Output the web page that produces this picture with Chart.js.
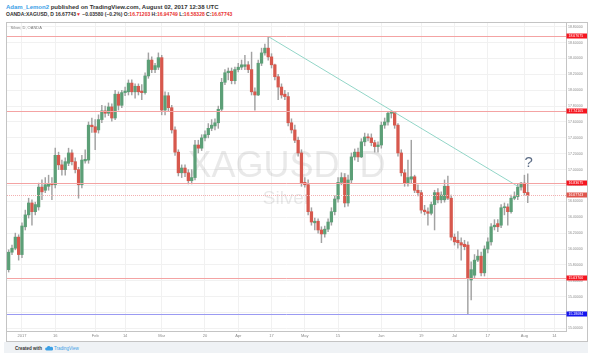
<!DOCTYPE html>
<html>
<head>
<meta charset="utf-8">
<script src="https://cdn.jsdelivr.net/npm/chart.js@4.4.0/dist/chart.umd.min.js"></script>
<style>
html, body { margin: 0; padding: 0; }
body { width: 599px; height: 353px; background: #fff; position: relative; overflow: hidden;
       font-family: "Liberation Sans", Arial, sans-serif; }
#h1 { position: absolute; left: 6px; top: 4px; font-size: 6px; line-height: 6px; font-weight: bold; color: #333; white-space: nowrap; }
#h2 { position: absolute; left: 6px; top: 11.5px; font-size: 5px; line-height: 5px; font-weight: bold; color: #333; white-space: nowrap; }
#h1 .who { color: #3ba0e6; }
.red { color: #e8322f; }
#box { position: absolute; left: 6px; top: 22px; width: 580px; height: 318px; border: 1px solid #c4c4c4; background: #fff; }
#box canvas { position: absolute; left: 0; top: 0; }
#foot { position: absolute; left: 4px; top: 342px; width: 584px; height: 11px; background: #eff2f5; }
#foot .txt { position: absolute; left: 11px; top: 4px; font-size: 4.5px; line-height: 5px; font-weight: bold; color: #333; white-space: nowrap; }
#foot .tv { position: absolute; left: 50px; top: 4px; font-size: 4.5px; line-height: 5px; color: #3ba0e6; white-space: nowrap; }
#foot svg { position: absolute; left: 41px; top: 3px; }
</style>
</head>
<body>
<div id="h1"><span class="who">Adam_Lemon2</span> published on TradingView.com, August 02, 2017 12:38 UTC</div>
<div id="h2">OANDA:XAGUSD, D 16.67743<span class="red">▼</span> −0.03580 (−0.2%) O:<span class="red">16.71203</span> H:<span class="red">16.94749</span> L:<span class="red">16.58328</span> C:<span class="red">16.67743</span></div>
<div id="box"><canvas id="chart" width="580" height="318"></canvas></div>
<div id="foot">
  <span class="txt">Created with</span>
  <svg width="8" height="6" viewBox="0 0 8 6"><path d="M1.5 5.5 a1.5 1.5 0 0 1 0.3-3 a2 2 0 0 1 3.7-0.6 a1.6 1.6 0 0 1 1.5 3.6 z" fill="#3ba0e6"/></svg>
  <span class="tv">TradingView</span>
</div>
<script>
// Свечи XAGUSD, дневной таймфрейм, 27.12.2016 - 02.08.2017
var FIRST_DAY = '2016-12-27';
var DAY_COUNT = 168;   // торговые дни на оси, включая пустые справа

var OPEN = [
  15.74, 15.96, 16.01, 16.15,
  15.93, 16.28, 16.43, 16.58, 16.47, 16.53, 16.78, 16.74, 16.79, 16.82,
  16.81, 17.18, 17.06, 17.00, 17.08, 17.21, 17.10, 17.00, 16.81, 17.11,
  17.12, 17.56, 17.54, 17.50, 17.63, 17.74, 17.71, 17.79, 17.65, 17.95,
  17.81, 17.97, 17.98, 18.09, 17.98, 18.05, 17.99, 17.97, 18.18, 18.38,
  18.26, 18.29, 18.41, 17.75, 17.93, 17.78, 17.50, 17.22, 16.96, 17.02,
  16.96, 16.86, 16.90, 17.31, 17.27, 17.40, 17.44, 17.52, 17.55, 17.59,
  17.76, 18.10, 18.22, 18.24, 18.12, 18.26, 18.29, 18.30, 18.32, 18.26,
  17.98, 17.94, 18.34, 18.47, 18.53, 18.42, 18.32, 18.17, 18.04, 17.95,
  17.92, 17.59, 17.50, 17.37, 17.21, 16.84, 16.81, 16.47, 16.33, 16.35,
  16.24, 16.19, 16.25, 16.34, 16.47, 16.63, 16.84, 16.90, 16.58, 16.87,
  17.16, 17.22, 17.16, 17.35, 17.41, 17.40, 17.34, 17.29, 17.31, 17.56,
  17.60, 17.71, 17.72, 17.56, 17.21, 16.96, 16.83, 16.88, 16.91, 16.74,
  16.71, 16.49, 16.47, 16.45, 16.56, 16.71, 16.62, 16.62, 16.79, 16.64,
  16.15, 16.11, 16.08, 16.06, 16.05, 15.61, 15.67, 15.86, 15.91, 15.70,
  16.00, 16.09, 16.28, 16.32, 16.30, 16.52, 16.53, 16.47, 16.64, 16.66,
  16.78, 16.83, 16.71203
];
var HIGH = [
  15.99, 16.05, 16.20, 16.18,
  16.33, 16.49, 16.64, 16.62, 16.59, 16.83, 16.87, 16.90, 16.93, 16.90,
  17.27, 17.22, 17.12, 17.15, 17.27, 17.25, 17.15, 17.03, 17.18, 17.25,
  17.60, 17.65, 17.63, 17.69, 17.81, 17.80, 17.84, 17.83, 18.00, 17.98,
  18.00, 18.04, 18.13, 18.13, 18.08, 18.08, 18.07, 18.22, 18.47, 18.42,
  18.34, 18.47, 18.44, 17.98, 17.97, 17.81, 17.54, 17.25, 17.06, 17.06,
  17.00, 17.00, 17.37, 17.37, 17.44, 17.49, 17.58, 17.63, 17.64, 17.80,
  18.15, 18.26, 18.28, 18.28, 18.29, 18.34, 18.38, 18.44, 18.36, 18.48,
  18.03, 18.38, 18.53, 18.58, 18.67675, 18.46, 18.33, 18.20, 18.08, 18.00,
  17.97, 17.64, 17.56, 17.41, 17.25, 16.90, 16.87, 16.52, 16.39, 16.38,
  16.28, 16.29, 16.38, 16.52, 16.67, 16.90, 16.96, 16.95, 16.93, 17.21,
  17.26, 17.27, 17.39, 17.46, 17.45, 17.45, 17.37, 17.35, 17.60, 17.65,
  17.73, 17.74105, 17.73, 17.58, 17.25, 17.00, 17.12, 17.37, 16.93, 16.81,
  16.74, 16.55, 16.52, 16.59, 16.74, 16.76, 16.72, 16.87, 16.92, 16.68,
  16.19, 16.22, 16.14, 16.11, 16.09, 15.84, 15.93, 15.99, 15.96, 16.04,
  16.14, 16.32, 16.37, 16.37, 16.56, 16.58, 16.57, 16.68, 16.72, 16.82,
  16.84, 16.93, 16.94749
];
var LOW = [
  15.71, 15.93, 15.99, 15.86,
  15.89, 16.24, 16.39, 16.30, 16.43, 16.49, 16.62, 16.71, 16.74, 16.62,
  16.77, 17.00, 16.93, 16.93, 17.05, 17.06, 16.96, 16.64, 16.77, 17.08,
  17.08, 17.47, 17.25, 17.46, 17.59, 17.66, 17.68, 17.61, 17.63, 17.75,
  17.78, 17.93, 17.94, 17.94, 17.90, 17.94, 17.88, 17.95, 18.15, 18.22,
  18.22, 18.26, 17.69, 17.69, 17.73, 17.46, 17.18, 16.92, 16.90, 16.91,
  16.82, 16.82, 16.87, 17.21, 17.24, 17.36, 17.40, 17.49, 17.50, 17.52,
  17.73, 18.07, 18.13, 18.08, 18.08, 18.23, 18.26, 18.26, 18.22, 17.94,
  17.75, 17.93, 18.31, 18.44, 18.38, 18.28, 18.13, 17.88, 17.90, 17.88,
  17.55, 17.46, 17.34, 17.17, 16.79, 16.78, 16.43, 16.30, 16.24, 16.20,
  16.08, 16.15, 16.22, 16.30, 16.43, 16.59, 16.81, 16.53, 16.54, 16.83,
  17.12, 17.10, 17.15, 17.30, 17.36, 17.30, 17.22, 17.22, 17.27, 17.52,
  17.56, 17.65, 17.52, 17.17, 16.92, 16.79, 16.79, 16.83, 16.71, 16.67,
  16.45, 16.43, 16.30, 16.43, 16.24, 16.58, 16.58, 16.59, 16.62, 16.11,
  16.05, 16.01, 15.86, 15.99, 15.18084, 15.36, 15.64, 15.84, 15.66, 15.66,
  15.95, 16.05, 16.24, 16.22, 16.27, 16.43, 16.30, 16.45, 16.62, 16.62,
  16.74, 16.68, 16.58328
];
var CLOSE = [
  15.96, 16.01, 16.15, 15.93,
  16.29, 16.43, 16.58, 16.47, 16.56, 16.78, 16.72, 16.81, 16.82, 16.81,
  17.18, 17.06, 17.00, 17.10, 17.21, 17.10, 17.00, 16.81, 17.12, 17.13,
  17.56, 17.54, 17.47, 17.63, 17.74, 17.71, 17.79, 17.65, 17.95, 17.81,
  17.97, 17.99, 18.09, 17.98, 18.05, 17.98, 17.97, 18.18, 18.38, 18.26,
  18.31, 18.41, 17.75, 17.93, 17.78, 17.50, 17.22, 16.96, 17.02, 16.96,
  16.86, 16.90, 17.31, 17.27, 17.40, 17.44, 17.52, 17.56, 17.59, 17.76,
  18.10, 18.22, 18.24, 18.12, 18.26, 18.29, 18.32, 18.32, 18.26, 17.98,
  17.94, 18.34, 18.47, 18.53, 18.42, 18.32, 18.17, 18.04, 17.94, 17.92,
  17.59, 17.50, 17.37, 17.21, 16.83, 16.81, 16.47, 16.34, 16.35, 16.24,
  16.19, 16.25, 16.34, 16.47, 16.63, 16.84, 16.90, 16.58, 16.87, 17.16,
  17.22, 17.16, 17.35, 17.41, 17.40, 17.34, 17.29, 17.31, 17.56, 17.60,
  17.71, 17.73, 17.56, 17.21, 16.96, 16.83, 16.90, 16.91, 16.74, 16.71,
  16.49, 16.47, 16.45, 16.56, 16.71, 16.62, 16.68, 16.79, 16.64, 16.15,
  16.09, 16.08, 16.05, 16.03, 15.637, 15.74, 15.86, 15.91, 15.70, 16.00,
  16.09, 16.28, 16.30, 16.28, 16.52, 16.53, 16.47, 16.64, 16.66, 16.78,
  16.83, 16.71, 16.67743
];

// Подписи оси времени
var XTICK_DATES = ['2017-01-02', '2017-01-16', '2017-02-01', '2017-02-14', '2017-03-01', '2017-03-20',
                   '2017-04-03', '2017-04-17', '2017-05-01', '2017-05-15', '2017-06-01', '2017-06-19',
                   '2017-07-03', '2017-07-17', '2017-08-01', '2017-08-14'];
var XTICK_TEXT = ['2017', '16', 'Feb', '14', 'Mar', '20', 'Apr', '17', 'May', '15', 'Jun', '19', 'Jul', '17', 'Aug', '14'];

// Шкала цены
var Y_TICKS = [15.0, 15.2, 15.4, 15.6, 15.8, 16.0, 16.2, 16.4, 16.6, 16.8, 17.0, 17.2, 17.4, 17.6, 17.8, 18.0, 18.2, 18.4, 18.6, 18.8];
var Y_MIN = 14.9675;
var Y_MAX = 18.8466;

// Горизонтальные уровни и трендовая линия
var LEVELS = [18.67675, 17.74105, 16.83675, 16.67743, 15.637, 15.18084];
var TREND_DATES = ['2017-04-14', '2017-07-28'];
var TREND_PRICES = [18.67675, 16.79];
var NOTE = { date: '2017-08-02', price: 17.03, text: '?' };

// Стили
var UP = '#5c9f77';
var DOWN = '#d7584d';
var WICK = '#a2a2a2';
var LEVEL_LINE = ['#f4a3a3', '#f4a3a3', '#f4a3a3', '#f3b0b0', '#f4a3a3', '#9a9af2'];
var LEVEL_DASH = [[], [], [], [1, 1], [], []];
var LEVEL_BOX = ['#f5151f', '#f5151f', '#f5151f', '#e0574e', '#f5151f', '#1414ee'];
var FONT = '"Liberation Sans", Arial, sans-serif';

function tradingDays(start, count) {
    var out = [];
    var d = new Date(start + 'T00:00:00Z');
    while (out.length < count) {
        var w = d.getUTCDay();
        if (w !== 0 && w !== 6) out.push(d.toISOString().slice(0, 10));
        d.setUTCDate(d.getUTCDate() + 1);
    }
    return out;
}
var labels = tradingDays(FIRST_DAY, DAY_COUNT);

var overlay = {
    id: 'overlay',
    beforeDatasetsDraw: function (chart) {
        var ctx = chart.ctx, a = chart.chartArea;
        var cx = (a.left + a.right) / 2;
        ctx.save();
        ctx.fillStyle = 'rgba(110,110,110,0.15)';
        ctx.textAlign = 'center';
        ctx.textBaseline = 'alphabetic';
        ctx.font = '36px ' + FONT;
        ctx.fillText('XAGUSD, D', cx, 154);
        ctx.font = '19px ' + FONT;
        ctx.fillText('Silver', cx, 181);
        ctx.restore();
    },
    afterDatasetsDraw: function (chart) {
        var ctx = chart.ctx, a = chart.chartArea, y = chart.scales.y;
        ctx.save();
        ctx.lineWidth = 1;
        LEVELS.forEach(function (lv, k) {
            var py = Math.round(y.getPixelForValue(lv)) + 0.5;
            ctx.strokeStyle = LEVEL_LINE[k];
            ctx.setLineDash(LEVEL_DASH[k]);
            ctx.beginPath();
            ctx.moveTo(a.left, py);
            ctx.lineTo(a.right, py);
            ctx.stroke();
        });
        ctx.restore();
    },
    afterDraw: function (chart) {
        var ctx = chart.ctx, a = chart.chartArea, x = chart.scales.x, y = chart.scales.y;
        ctx.save();
        // цены уровней на шкале
        ctx.textBaseline = 'middle';
        ctx.font = '3.5px ' + FONT;
        LEVELS.forEach(function (lv, k) {
            var py = Math.round(y.getPixelForValue(lv));
            ctx.fillStyle = LEVEL_BOX[k];
            ctx.fillRect(a.right + 0.5, py - 2.5, chart.width - a.right, 5);
            ctx.fillStyle = '#fff';
            ctx.fillText(lv.toFixed(5), a.right + 2.5, py + 0.3);
        });
        // подпись серии
        ctx.fillStyle = '#7a7a7a';
        ctx.font = '4px ' + FONT;
        ctx.fillText('Silver, D, OANDA', 3.5, 4.5);
        // знак вопроса над последней свечой
        ctx.fillStyle = '#5d6d86';
        ctx.font = '15px ' + FONT;
        ctx.textAlign = 'center';
        ctx.textBaseline = 'alphabetic';
        ctx.fillText(NOTE.text, x.getPixelForValue(labels.indexOf(NOTE.date)) + 1, y.getPixelForValue(NOTE.price));
        ctx.restore();
    }
};

var ctx = document.getElementById('chart').getContext('2d');
var chart = new Chart(ctx, {
    type: 'bar',
    data: {
        labels: labels,
        datasets: [{
            type: 'line',
            data: [{ x: TREND_DATES[0], y: TREND_PRICES[0] }, { x: TREND_DATES[1], y: TREND_PRICES[1] }],
            borderColor: '#93d6c8',
            borderWidth: 1,
            pointRadius: 0,
            order: 0
        }, {
            data: OPEN.map(function (o, k) { return [o, CLOSE[k]]; }),
            backgroundColor: OPEN.map(function (o, k) { return CLOSE[k] >= o ? UP : DOWN; }),
            barThickness: 2.6,
            minBarLength: 1,
            grouped: false,
            order: 1
        }, {
            data: LOW.map(function (l, k) { return [l, HIGH[k]]; }),
            backgroundColor: WICK,
            barThickness: 0.8,
            grouped: false,
            order: 2
        }]
    },
    options: {
        responsive: false,
        animation: false,
        devicePixelRatio: 1,
        layout: { padding: 0 },
        plugins: {
            legend: { display: false },
            tooltip: { enabled: false }
        },
        scales: {
            x: {
                type: 'category',
                offset: true,
                grid: { offset: false, color: '#f1f1f1', drawTicks: false },
                border: { color: '#c4c4c4' },
                ticks: {
                    autoSkip: false,
                    maxRotation: 0,
                    padding: 2,
                    color: '#8a8a8a',
                    font: { size: 4, family: FONT },
                    callback: function (v) {
                        var k = XTICK_DATES.indexOf(this.getLabelForValue(v));
                        return k < 0 ? null : XTICK_TEXT[k];
                    }
                },
                afterFit: function (s) { s.height = 10; s.paddingLeft = 0; s.paddingRight = 0; }
            },
            y: {
                position: 'right',
                min: Y_MIN,
                max: Y_MAX,
                grid: { color: '#f1f1f1', drawTicks: false },
                border: { color: '#c4c4c4' },
                ticks: {
                    padding: 2,
                    color: '#8a8a8a',
                    font: { size: 3.5, family: FONT },
                    callback: function (v) { return Number(v).toFixed(5); }
                },
                afterBuildTicks: function (s) { s.ticks = Y_TICKS.map(function (v) { return { value: v }; }); },
                afterFit: function (s) { s.width = 21; s.paddingTop = 0; s.paddingBottom = 0; }
            }
        }
    },
    plugins: [overlay]
});
</script>
</body>
</html>
